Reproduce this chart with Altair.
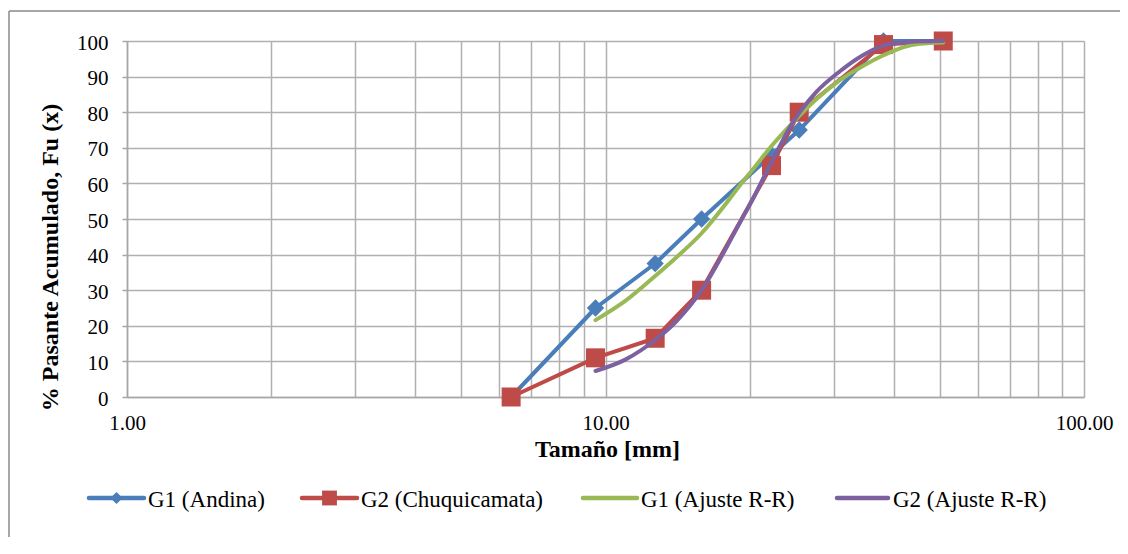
import altair as alt
import pandas as pd

# ---- data ----
sizes_g1 = [6.35, 9.53, 12.7, 15.88, 22.23, 25.4, 38.1, 50.8]
g1_andina = [0, 25, 37.5, 50, 68, 75, 100, 100]

sizes_g2 = [6.35, 9.53, 12.7, 15.88, 22.23, 25.4, 38.1, 50.8]
g2_chuqui = [0, 11, 16.5, 30, 65, 80, 99, 100]

fit_sizes = [9.53, 11, 12.7, 14, 15.88, 17.9, 19.1, 20.2, 22.23, 24.6, 27.5, 30.9, 34.5, 38.1, 42, 45.4, 50.8]
g1_fit = [21.6, 27, 34, 39, 46, 54.5, 59.5, 63.5, 70.5, 77, 83.5, 89, 93, 96, 98.3, 99.2, 99.6]
g2_fit = [7.3, 10.5, 16, 21, 30, 42, 49, 55, 66, 77, 85.5, 91.5, 96, 98.7, 99.6, 99.9, 100]

x_ticks = [1, 2, 3, 4, 5, 6, 7, 8, 9, 10, 20, 30, 40, 50, 60, 70, 80, 90, 100]
y_ticks = [0, 10, 20, 30, 40, 50, 60, 70, 80, 90, 100]

legend_labels = ["G1 (Andina)", "G2 (Chuquicamata)", "G1 (Ajuste R-R)", "G2 (Ajuste R-R)"]
colors = ["#4A7EBB", "#BE4B48", "#98B954", "#7D60A0"]

FONT = "Times New Roman, Liberation Serif, serif"
W, H = 957, 356

df_g1 = pd.DataFrame({"x": sizes_g1, "y": g1_andina})
df_g2 = pd.DataFrame({"x": sizes_g2, "y": g2_chuqui})
df_f1 = pd.DataFrame({"x": fit_sizes, "y": g1_fit})
df_f2 = pd.DataFrame({"x": fit_sizes, "y": g2_fit})

xscale = alt.Scale(type="log", domain=[1, 100], nice=False)
yscale = alt.Scale(domain=[0, 100], nice=False)

x_axis = alt.Axis(
    title="Tamaño [mm]", values=x_ticks,
    labelExpr="datum.value == 1 ? '1.00' : datum.value == 10 ? '10.00' : datum.value == 100 ? '100.00' : ''",
    labelFlush=False, labelOverlap=False, tickSize=0, labelPadding=32,
    labelBaseline="alphabetic", labelFont=FONT, labelFontSize=21, labelColor="black",
    titleFont=FONT, titleFontSize=24, titleFontWeight="bold", titleColor="black",
    titleX=480, titleY=59, titleBaseline="alphabetic", titleAlign="center",
    grid=True, gridColor="#b0b0b0", gridWidth=1.5,
    domainColor="#a6a6a6", domainWidth=1.5,
)
y_axis = alt.Axis(
    title="% Pasante Acumulado, Fu (x)", values=y_ticks, format="d",
    tickSize=5, tickColor="#a6a6a6", tickWidth=1.5, labelPadding=14,
    labelFont=FONT, labelFontSize=21, labelColor="black", labelOffset=2,
    titleFont=FONT, titleFontSize=24, titleFontWeight="bold", titleColor="black",
    titleX=-77, titleY=216, titleAlign="center", titleBaseline="middle", titleAngle=-90,
    grid=True, gridColor="#b0b0b0", gridWidth=1.5,
    domainColor="#a6a6a6", domainWidth=1.5,
)

def enc(ch):
    return ch.encode(
        x=alt.X("x:Q", scale=xscale, axis=x_axis),
        y=alt.Y("y:Q", scale=yscale, axis=y_axis),
    )

l_g1 = enc(alt.Chart(df_g1).mark_line(color=colors[0], strokeWidth=4, strokeCap="round", strokeJoin="round"))
p_g1 = enc(alt.Chart(df_g1).mark_point(shape="diamond", filled=True, color=colors[0], size=300, opacity=1))
l_g2 = enc(alt.Chart(df_g2).mark_line(color=colors[1], strokeWidth=4, strokeCap="round", strokeJoin="round"))
p_g2 = enc(alt.Chart(df_g2).mark_point(shape="square", filled=True, color=colors[1], size=361, opacity=1))
l_f1 = enc(alt.Chart(df_f1).mark_line(color=colors[2], strokeWidth=4, strokeCap="round", interpolate="monotone"))
l_f2 = enc(alt.Chart(df_f2).mark_line(color=colors[3], strokeWidth=4, strokeCap="round", interpolate="monotone"))

one = pd.DataFrame({"a": [0]})

# outer chart border (left and top edges are visible in the reference)
border_left = alt.Chart(one).mark_rule(color="#8a8a8a", strokeWidth=1.5).encode(
    x=alt.value(-118), y=alt.value(-30), y2=alt.value(600)
)
border_top = alt.Chart(one).mark_rule(color="#8a8a8a", strokeWidth=1.5).encode(
    x=alt.value(-118), x2=alt.value(1100), y=alt.value(-30)
)

# legend (below the plot)
leg_y = 457
leg_line_x = [(-38, 17), (175, 230), (456, 510), (710, 761)]
leg_text_x = [21, 234, 514, 766]
leg_shapes = ["diamond", "square", None, None]
leg_sizes = [150, 220, 0, 0]
legend_layers = []
for i in range(4):
    x0, x1 = leg_line_x[i]
    legend_layers.append(
        alt.Chart(one).mark_rule(color=colors[i], strokeWidth=4.5, strokeCap="round").encode(
            x=alt.value(x0), x2=alt.value(x1), y=alt.value(leg_y)
        )
    )
    if leg_shapes[i]:
        legend_layers.append(
            alt.Chart(one).mark_point(shape=leg_shapes[i], filled=True, color=colors[i],
                                      size=leg_sizes[i], opacity=1).encode(
                x=alt.value((x0 + x1) / 2), y=alt.value(leg_y)
            )
        )
    legend_layers.append(
        alt.Chart(one).mark_text(align="left", baseline="alphabetic", font=FONT, fontSize=23,
                                 color="black").encode(
            x=alt.value(leg_text_x[i]), y=alt.value(leg_y + 9), text=alt.value(legend_labels[i])
        )
    )

chart = alt.layer(l_g1, p_g1, l_g2, p_g2, l_f1, l_f2, border_left, border_top, *legend_layers).properties(
    width=W, height=H,
    autosize=alt.AutoSizeParams(type="none"),
    padding={"left": 119, "top": 33, "right": 36, "bottom": 140},
    background="white",
).configure_view(strokeWidth=0)

chart.save("out.html", embed_options={"renderer": "svg", "actions": False})
